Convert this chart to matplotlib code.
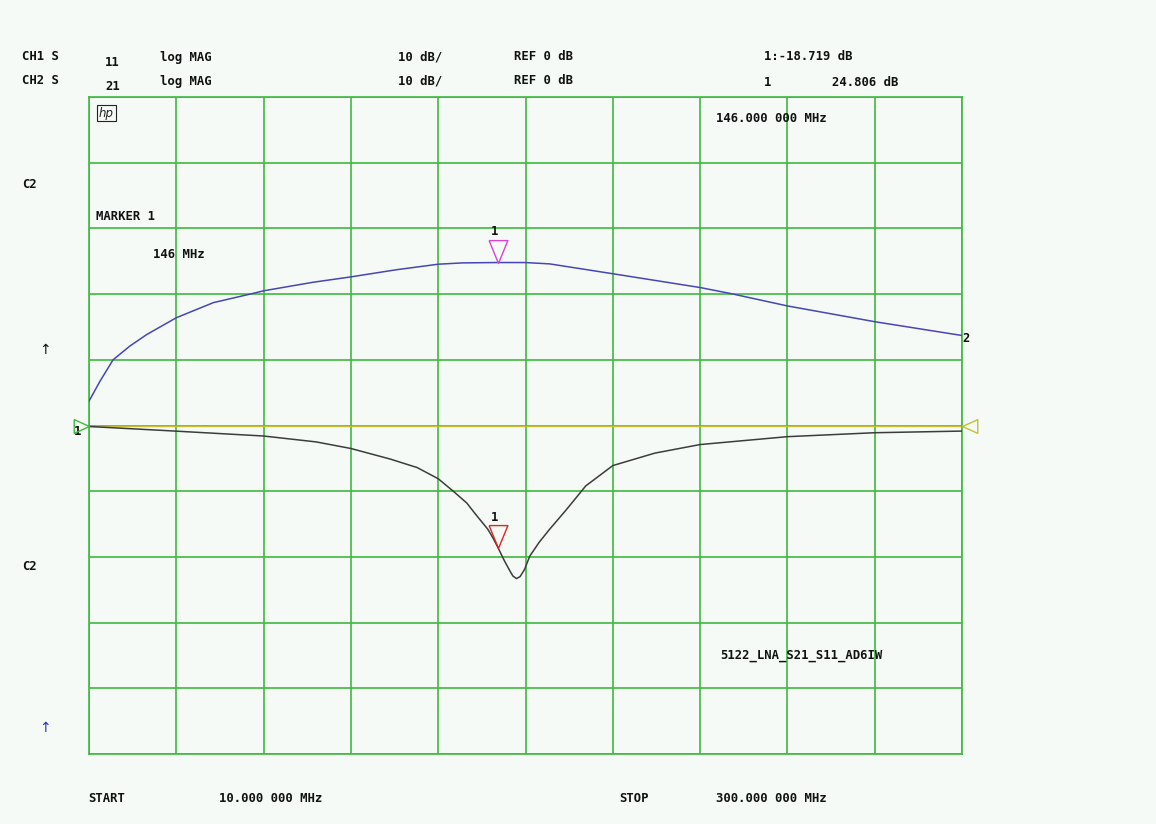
import matplotlib.pyplot as plt
import numpy as np

# ---- data (MHz, dB) ----
f_s21 = [10, 13.6, 18, 23.6, 29.2, 39, 51.3, 63.5, 68, 84.4, 96.7, 112, 126, 134,
         146, 155, 163, 184, 213, 223, 242, 271, 300]
s21 = [3.7, 6.7, 10.0, 12.1, 13.85, 16.4, 18.7, 20.0, 20.5, 21.8, 22.6, 23.7, 24.55, 24.75,
       24.806, 24.8, 24.6, 23.1, 21.0, 20.1, 18.2, 15.8, 13.7]

f_s11 = [10, 39, 68, 85.5, 97, 110, 119, 126, 131, 135.5, 138.4, 142.5, 144.3, 146, 148,
         149.9, 150.8, 152, 153.2, 154.7, 156.4, 159.5, 163, 168.6, 175, 184, 198, 213,
         242, 271, 300]
s11 = [-0.15, -0.86, -1.6, -2.5, -3.5, -5.1, -6.4, -8.1, -10.0, -11.8, -13.5, -15.8, -17.2,
       -18.719, -20.6, -22.2, -22.9, -23.3, -23.0, -21.9, -19.9, -17.8, -15.8, -12.8, -9.2,
       -6.1, -4.2, -2.9, -1.7, -1.1, -0.85]

marker_f = 146.0
marker_s11 = -18.719
marker_s21 = 24.806

f_start, f_stop = 10.0, 300.0
db_per_div = 10
ref_db = 0

W, H = 1156, 824
bg = '#f5faf6'
grid_c = '#3fba3f'

fig = plt.figure(figsize=(W / 100, H / 100), dpi=100, facecolor=bg)
ax = fig.add_axes([89 / W, 1 - 754 / H, 873 / W, 657 / H])
ax.set_facecolor(bg)

ax.set_xlim(f_start, f_stop)
ax.set_ylim(ref_db - 5 * db_per_div, ref_db + 5 * db_per_div)
ax.set_xticks(np.linspace(f_start, f_stop, 11))
ax.set_yticks(np.arange(-50, 51, 10))
ax.tick_params(length=0, labelbottom=False, labelleft=False)
ax.grid(True, color=grid_c, lw=1.2)
for s in ax.spines.values():
    s.set_color(grid_c)
    s.set_linewidth(1.2)

# reference line
ax.axhline(ref_db, color='#c4c034', lw=1.0, zorder=2)

# traces
ax.plot(f_s21, s21, color='#4646b4', lw=1.1, zorder=3)
ax.plot(f_s11, s11, color='#3c3c3c', lw=1.1, zorder=3)

# marker triangles (tip at the trace)
tri = [(-0.41, 1.0), (0.41, 1.0), (0.0, 0.0), (-0.41, 1.0)]
ax.plot([marker_f], [marker_s21], marker=tri, ms=33, mfc='none', mec='#d844d0',
        mew=1.0, ls='none', zorder=4)
ax.plot([marker_f], [marker_s11], marker=tri, ms=33, mfc='none', mec='#e02424',
        mew=1.0, ls='none', zorder=4)

mono = dict(family='DejaVu Sans Mono', weight='bold', fontsize=8.8, color='#111111')
ax.annotate('1', (marker_f, marker_s21), xytext=(-4, 31), textcoords='offset pixels',
            ha='center', va='center', **mono)
ax.annotate('1', (marker_f, marker_s11), xytext=(-4, 31), textcoords='offset pixels',
            ha='center', va='center', **mono)

# reference position arrows
ax.plot([f_start], [ref_db], marker=[(-1, 0.45), (0, 0), (-1, -0.45), (-1, 0.45)],
        ms=22, mfc='none', mec='#3fba3f', mew=1.0, ls='none', clip_on=False, zorder=4)
ax.plot([f_stop], [ref_db], marker=[(1, 0.45), (0, 0), (1, -0.45), (1, 0.45)],
        ms=22, mfc='none', mec='#c4c034', mew=1.0, ls='none', clip_on=False, zorder=4)
ax.annotate('1', (f_start, ref_db), xytext=(-11, -6), textcoords='offset pixels',
            ha='center', va='center', **mono)
ax.annotate('2', (f_stop, s21[-1]), xytext=(4, -3), textcoords='offset pixels',
            ha='center', va='center', **mono)


def ftext(px, py, s, **kw):
    opts = dict(mono)
    opts.update(kw)
    fig.text(px / W, 1 - py / H, s, ha='left', va='center', **opts)


# header
ftext(22, 57, 'CH1 S')
ftext(105, 62, '11')
ftext(160, 57, 'log MAG')
ftext(398, 57, '10 dB/')
ftext(514, 57, 'REF 0 dB')
ftext(764, 57, '1:-18.719 dB')
ftext(22, 81, 'CH2 S')
ftext(105, 86, '21')
ftext(160, 81, 'log MAG')
ftext(398, 81, '10 dB/')
ftext(514, 81, 'REF 0 dB')
ftext(764, 82, '1')
ftext(832, 82, '24.806 dB')

# inside grid
fig.text(99 / W, 1 - 113 / H, 'hp', family='DejaVu Sans', style='italic', fontsize=8.5,
         color='#222222', ha='left', va='center',
         bbox=dict(boxstyle='square,pad=0.15', fc='none', ec='#222222', lw=0.8))
ftext(716, 118, '146.000 000 MHz')
ftext(96, 216, 'MARKER 1')
ftext(153, 255, '146 MHz')
ftext(720, 655, '5122_LNA_S21_S11_AD6IW')

# left side
ftext(22, 185, 'C2')
ftext(22, 566, 'C2')
ftext(39, 350, '\u2191', family='DejaVu Sans', weight='normal', fontsize=10)
ftext(39, 728, '\u2191', family='DejaVu Sans', weight='normal', fontsize=10, color='#3030c0')

# footer
ftext(88, 799, 'START')
ftext(219, 799, '10.000 000 MHz')
ftext(619, 799, 'STOP')
ftext(716, 799, '300.000 000 MHz')

plt.savefig('out.png', dpi=100, facecolor=bg)
